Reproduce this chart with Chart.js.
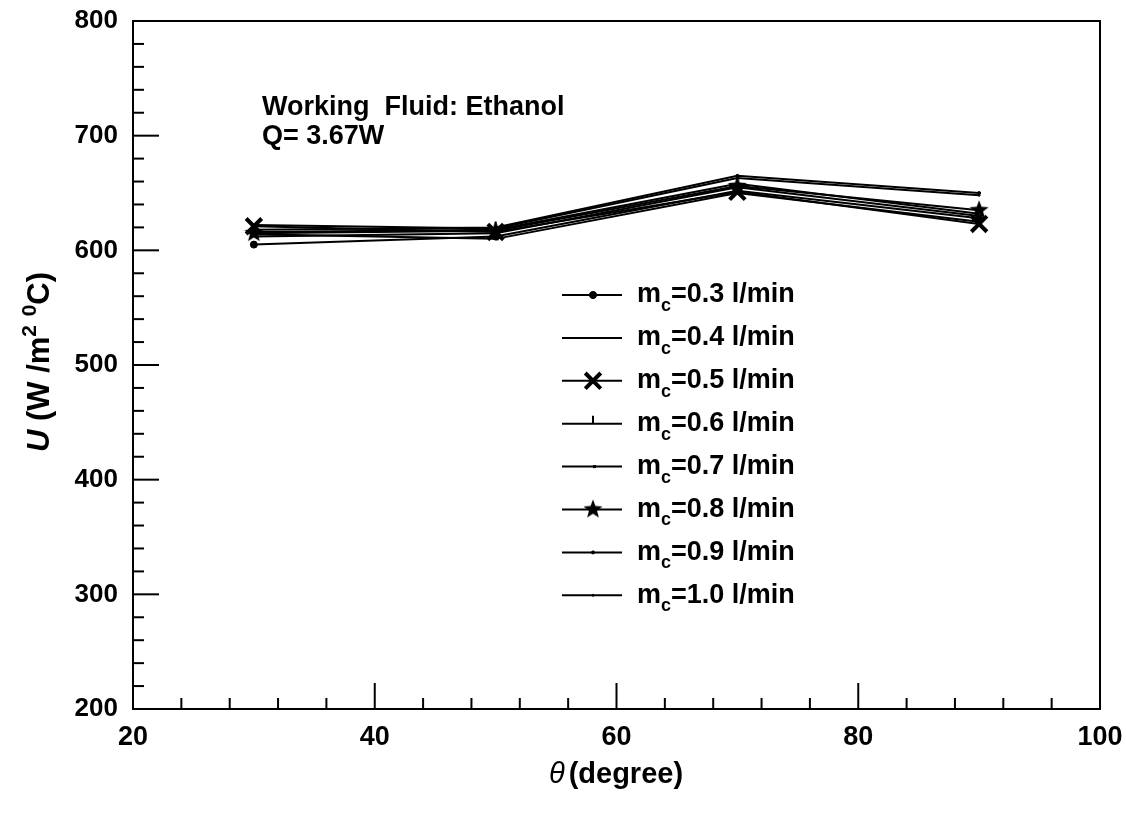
<!DOCTYPE html>
<html>
<head>
<meta charset="utf-8">
<script src="https://cdn.jsdelivr.net/npm/chart.js@4"></script>
<style>
  html, body { margin: 0; padding: 0; background: #fff; }
  #wrap { width: 1126px; height: 823px; }
</style>
</head>
<body>
<div id="wrap"><canvas id="chart" width="1126" height="823"></canvas></div>
<script>
// angle values (degree)
const angles = [30, 50, 70, 90];

// overall heat transfer coefficient U (W/m2 C), one list per coolant flow rate
const flowLabels = ['0.3', '0.4', '0.5', '0.6', '0.7', '0.8', '0.9', '1.0'];
const u03 = [605, 612, 652, 628];
const u04 = [612, 615, 655, 630];
const u05 = [621, 616, 651, 623];
const u06 = [616, 618, 658, 632];
const u07 = [614, 610, 650, 625];
const u08 = [615, 617, 656, 635];
const u09 = [618, 620, 665, 650];
const u10 = [622, 619, 663, 648];
const seriesValues = [u03, u04, u05, u06, u07, u08, u09, u10];

const xTicks = [20, 40, 60, 80, 100];
const yTicks = [200, 300, 400, 500, 600, 700, 800];

const FONT = '"Liberation Sans", Arial, sans-serif';

// filled five point star used for the 0.8 l/min series
function makeStar(r) {
    const c = document.createElement('canvas');
    c.width = c.height = r * 2 + 2;
    const g = c.getContext('2d');
    g.fillStyle = '#000';
    g.beginPath();
    for (let i = 0; i < 10; i++) {
        const rad = i % 2 === 0 ? r : r * 0.42;
        const a = -Math.PI / 2 + i * Math.PI / 5;
        const px = r + 1 + rad * Math.cos(a);
        const py = r + 1 + rad * Math.sin(a);
        if (i === 0) g.moveTo(px, py); else g.lineTo(px, py);
    }
    g.closePath();
    g.fill();
    return c;
}
const starImg = makeStar(10);

const markerStyles = [
    { pointStyle: 'circle', radius: 3.5, borderWidth: 1 },
    { pointStyle: false, radius: 0, borderWidth: 1 },
    { pointStyle: 'crossRot', radius: 11, borderWidth: 4 },
    { pointStyle: 'dash', radius: 8, borderWidth: 2, rotation: -90 },
    { pointStyle: 'dash', radius: 3, borderWidth: 3 },
    { pointStyle: starImg, radius: 10, borderWidth: 1 },
    { pointStyle: 'circle', radius: 1.5, borderWidth: 1 },
    { pointStyle: 'circle', radius: 1, borderWidth: 1 }
];

const datasets = seriesValues.map((vals, i) => ({
    label: 'mc=' + flowLabels[i] + ' l/min',
    data: angles.map((a, k) => ({ x: a, y: vals[k] })),
    borderColor: '#000',
    backgroundColor: '#000',
    borderWidth: 2,
    tension: 0,
    pointStyle: markerStyles[i].pointStyle,
    pointRadius: markerStyles[i].radius,
    pointBorderWidth: markerStyles[i].borderWidth,
    pointRotation: markerStyles[i].rotation || 0,
    pointHoverRadius: markerStyles[i].radius
}));

// frame, inward ticks, annotations, legend, axis titles
const decorPlugin = {
    id: 'decor',
    afterDraw(chart) {
        const ctx = chart.ctx;
        const a = chart.chartArea;
        const xs = chart.scales.x, ys = chart.scales.y;
        ctx.save();
        ctx.strokeStyle = '#000';
        ctx.lineWidth = 2;
        ctx.strokeRect(a.left, a.top, a.right - a.left, a.bottom - a.top);

        // y ticks: major each 100, minor each 20
        for (let v = 200; v <= 800; v += 20) {
            const py = ys.getPixelForValue(v);
            const len = v % 100 === 0 ? 26 : 11;
            ctx.beginPath();
            ctx.moveTo(a.left, py);
            ctx.lineTo(a.left + len, py);
            ctx.stroke();
        }
        // x ticks: major each 20, minor each 4
        for (let v = 20; v <= 100; v += 4) {
            const px = xs.getPixelForValue(v);
            const len = v % 20 === 0 ? 26 : 11;
            ctx.beginPath();
            ctx.moveTo(px, a.bottom);
            ctx.lineTo(px, a.bottom - len);
            ctx.stroke();
        }

        ctx.fillStyle = '#000';
        ctx.textBaseline = 'middle';
        ctx.textAlign = 'left';
        ctx.font = 'bold 27px ' + FONT;
        ctx.fillText('Working  Fluid: Ethanol', 262, 108);
        ctx.fillText('Q= 3.67W', 262, 137);

        // legend
        const rowGap = 42.9;
        chart.data.datasets.forEach((ds, i) => {
            const ly = 295 + i * rowGap;
            ctx.strokeStyle = '#000';
            ctx.lineWidth = 2;
            ctx.beginPath();
            ctx.moveTo(562, ly);
            ctx.lineTo(622, ly);
            ctx.stroke();
            const m = markerStyles[i];
            if (m.pointStyle) {
                ctx.lineWidth = m.borderWidth;
                Chart.helpers.drawPoint(ctx, {
                    pointStyle: m.pointStyle,
                    radius: m.radius,
                    rotation: m.rotation || 0,
                    borderWidth: m.borderWidth
                }, 593, ly);
                ctx.fill();
            }
            ctx.fillStyle = '#000';
            ctx.textAlign = 'left';
            ctx.textBaseline = 'middle';
            let tx = 637;
            ctx.font = 'bold 27px ' + FONT;
            ctx.fillText('m', tx, ly);
            tx += ctx.measureText('m').width;
            ctx.font = 'bold 18px ' + FONT;
            ctx.fillText('c', tx, ly + 11);
            tx += ctx.measureText('c').width;
            ctx.font = 'bold 27px ' + FONT;
            ctx.fillText('=' + flowLabels[i] + ' l/min', tx, ly);
        });

        // x axis title
        ctx.textBaseline = 'middle';
        ctx.font = 'italic 29px ' + FONT;
        const th = '\u03b8';
        const tw = ctx.measureText(th).width;
        ctx.font = 'bold 29px ' + FONT;
        const rest = '(degree)';
        const rw = ctx.measureText(rest).width;
        const sx = 616 - (tw + 4 + rw) / 2;
        ctx.font = 'italic 29px ' + FONT;
        ctx.fillText(th, sx, 775);
        ctx.font = 'bold 29px ' + FONT;
        ctx.fillText(rest, sx + tw + 4, 775);

        // y axis title, rotated
        ctx.translate(40, 362);
        ctx.rotate(-Math.PI / 2);
        const parts = [
            { t: 'U', f: 'bold italic 31px ', dy: 0 },
            { t: ' (W /m', f: 'bold 31px ', dy: 0 },
            { t: '2', f: 'bold 21px ', dy: -10 },
            { t: ' ', f: 'bold 31px ', dy: 0 },
            { t: '0', f: 'bold 21px ', dy: -10 },
            { t: 'C)', f: 'bold 31px ', dy: 0 }
        ];
        let total = 0;
        parts.forEach(p => { ctx.font = p.f + FONT; p.w = ctx.measureText(p.t).width; total += p.w; });
        let cx = -total / 2;
        parts.forEach(p => {
            ctx.font = p.f + FONT;
            ctx.fillText(p.t, cx, p.dy);
            cx += p.w;
        });
        ctx.restore();
    }
};

new Chart(document.getElementById('chart'), {
    type: 'line',
    data: { datasets: datasets },
    plugins: [decorPlugin],
    options: {
        responsive: false,
        animation: false,
        events: [],
        layout: { padding: { left: 0, right: 26, top: 21, bottom: 0 } },
        plugins: { legend: { display: false }, tooltip: { enabled: false } },
        scales: {
            x: {
                type: 'linear',
                min: 20, max: 100,
                grid: { display: false, drawTicks: false },
                border: { display: false },
                afterBuildTicks: s => { s.ticks = xTicks.map(v => ({ value: v })); },
                afterFit: s => { s.height = 114; s.paddingLeft = 0; s.paddingRight = 0; },
                ticks: {
                    padding: 12,
                    color: '#000',
                    font: { family: FONT, size: 27, weight: 'bold' },
                    maxRotation: 0
                }
            },
            y: {
                type: 'linear',
                min: 200, max: 800,
                grid: { display: false, drawTicks: false },
                border: { display: false },
                afterBuildTicks: s => { s.ticks = yTicks.map(v => ({ value: v })); },
                afterFit: s => { s.width = 133; s.paddingTop = 0; s.paddingBottom = 0; },
                ticks: {
                    padding: 15,
                    color: '#000',
                    font: { family: FONT, size: 26, weight: 'bold' }
                }
            }
        }
    }
});
</script>
</body>
</html>
